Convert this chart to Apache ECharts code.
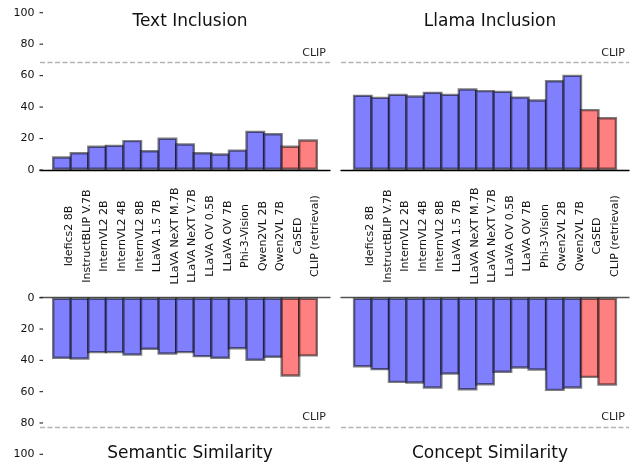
<!DOCTYPE html>
<html>
<head>
<meta charset="utf-8">
<script src="https://cdn.jsdelivr.net/npm/echarts@6/dist/echarts.min.js"></script>
<style>
html,body{margin:0;padding:0;background:#fff;}
#chart{width:632px;height:464px;}
</style>
</head>
<body>
<div id="chart"></div>
<script>
// ---- data ----
var categories = ['Idefics2 8B','InstructBLIP V.7B','InternVL2 2B','InternVL2 4B','InternVL2 8B','LLaVA 1.5 7B','LLaVA NeXT M.7B','LLaVA NeXT V.7B','LLaVA OV 0.5B','LLaVA OV 7B','Phi-3-Vision','Qwen2VL 2B','Qwen2VL 7B','CaSED','CLIP (retrieval)'];
var baselines = ['CaSED','CLIP (retrieval)'];
var textInclusion = [8.7, 11.4, 15.5, 16.1, 19.1, 12.7, 20.6, 17.0, 11.4, 10.6, 13.1, 25.0, 23.5, 15.5, 19.5];
var llamaInclusion = [47.9, 46.6, 48.5, 47.5, 49.8, 48.5, 51.9, 50.9, 50.4, 46.8, 44.9, 57.2, 60.6, 38.8, 33.7];
var semanticSimilarity = [39.1, 39.6, 35.5, 35.5, 37.0, 33.4, 36.4, 35.5, 38.1, 39.1, 33.0, 40.4, 38.5, 50.4, 37.6];
var conceptSimilarity = [44.5, 46.4, 54.5, 54.9, 58.1, 49.2, 59.2, 56.0, 48.1, 45.3, 46.6, 59.6, 58.1, 51.3, 56.2];
var clipText = 68.5, clipLlama = 68.5, clipSemantic = 82.6, clipConcept = 82.6;
var panelTitles = ['Text Inclusion','Llama Inclusion','Semantic Similarity','Concept Similarity'];

// ---- layout ----
var FONT = 'DejaVu Sans';
var BORDER = 2.4;
var grids = [
  {left: 40, top: 12.7, width: 290, height: 157.3},
  {left: 341, top: 12.7, width: 288, height: 157.3},
  {left: 40, top: 297.7, width: 290, height: 156.6},
  {left: 341, top: 297.7, width: 288, height: 156.6}
];
var xMin = -1.25, xMax = categories.length - 1 + 1.25;
var panels = [
  {values: textInclusion, clip: clipText, inverse: false, showY: true, showX: true},
  {values: llamaInclusion, clip: clipLlama, inverse: false, showY: false, showX: true},
  {values: semanticSimilarity, clip: clipSemantic, inverse: true, showY: true, showX: false},
  {values: conceptSimilarity, clip: clipConcept, inverse: true, showY: false, showX: false}
];
var idx = categories.map(function(c, i){ return i; });

var option = {
  animation: false,
  backgroundColor: '#fff',
  textStyle: {fontFamily: FONT},
  title: [],
  grid: grids.map(function(g){ return {left: g.left, top: g.top, width: g.width, height: g.height, containLabel: false}; }),
  xAxis: [],
  yAxis: [],
  series: []
};

panels.forEach(function(p, k){
  var g = grids[k];
  option.xAxis.push({
    type: 'value', gridIndex: k, min: xMin, max: xMax,
    position: p.inverse ? 'top' : 'bottom',
    axisLine: {show: true, onZero: false, lineStyle: {color: p.inverse ? '#555' : '#000', width: 1.4}},
    axisTick: {show: false},
    splitLine: {show: false},
    axisLabel: p.showX ? {
      show: true, customValues: idx, rotate: 90, align: 'center', verticalAlign: 'top',
      margin: 66, fontSize: 11, color: '#111', fontFamily: FONT, padding: [2, 0, 0, 0],
      formatter: function(v){ return categories[Math.round(v)] || ''; }
    } : {show: false}
  });
  option.yAxis.push({
    type: 'value', gridIndex: k, min: 0, max: 100, interval: 20, inverse: p.inverse,
    position: 'left',
    axisLine: {show: false, onZero: false},
    splitLine: {show: false},
    axisTick: {show: false},
    axisLabel: {
      show: p.showY, margin: -3, fontSize: 11, color: '#111', fontFamily: FONT,
      formatter: function(v){ return '{v|' + v + '}{s|}{t|}'; },
      rich: {
        v: {fontSize: 11, color: '#111', fontFamily: FONT},
        s: {width: 5},
        t: {width: 3.5, height: 1.1, backgroundColor: '#222', verticalAlign: 'middle'}
      }
    }
  });
  var bw = g.width / (xMax - xMin);
  option.series.push({
    type: 'bar', xAxisIndex: k, yAxisIndex: k,
    barWidth: bw + BORDER, barCategoryGap: '0%', barGap: '0%',
    data: p.values.map(function(v, i){ return [i, v]; }),
    itemStyle: {
      color: function(params){
        return baselines.indexOf(categories[params.dataIndex]) >= 0 ? '#ff8080' : '#8080ff';
      },
      borderColor: 'rgba(0,0,0,0.5)', borderWidth: BORDER
    },
    markLine: {
      silent: true, symbol: 'none', animation: false,
      lineStyle: {type: [5, 2.5], color: '#b4b4b4', width: 1.3},
      label: {show: true, formatter: 'CLIP', position: 'insideEndTop', distance: [4, 4], fontSize: 11, color: '#222', fontFamily: FONT},
      data: [{yAxis: p.clip}]
    }
  });
  option.title.push({
    text: panelTitles[k],
    left: g.left + g.width / 2, textAlign: 'center',
    top: k < 2 ? 8 : 440,
    textStyle: {fontSize: 17, fontWeight: 'normal', color: '#111', fontFamily: FONT}
  });
});

var chart = echarts.init(document.getElementById('chart'), null, {renderer: 'canvas'});
chart.setOption(option);
</script>
</body>
</html>
